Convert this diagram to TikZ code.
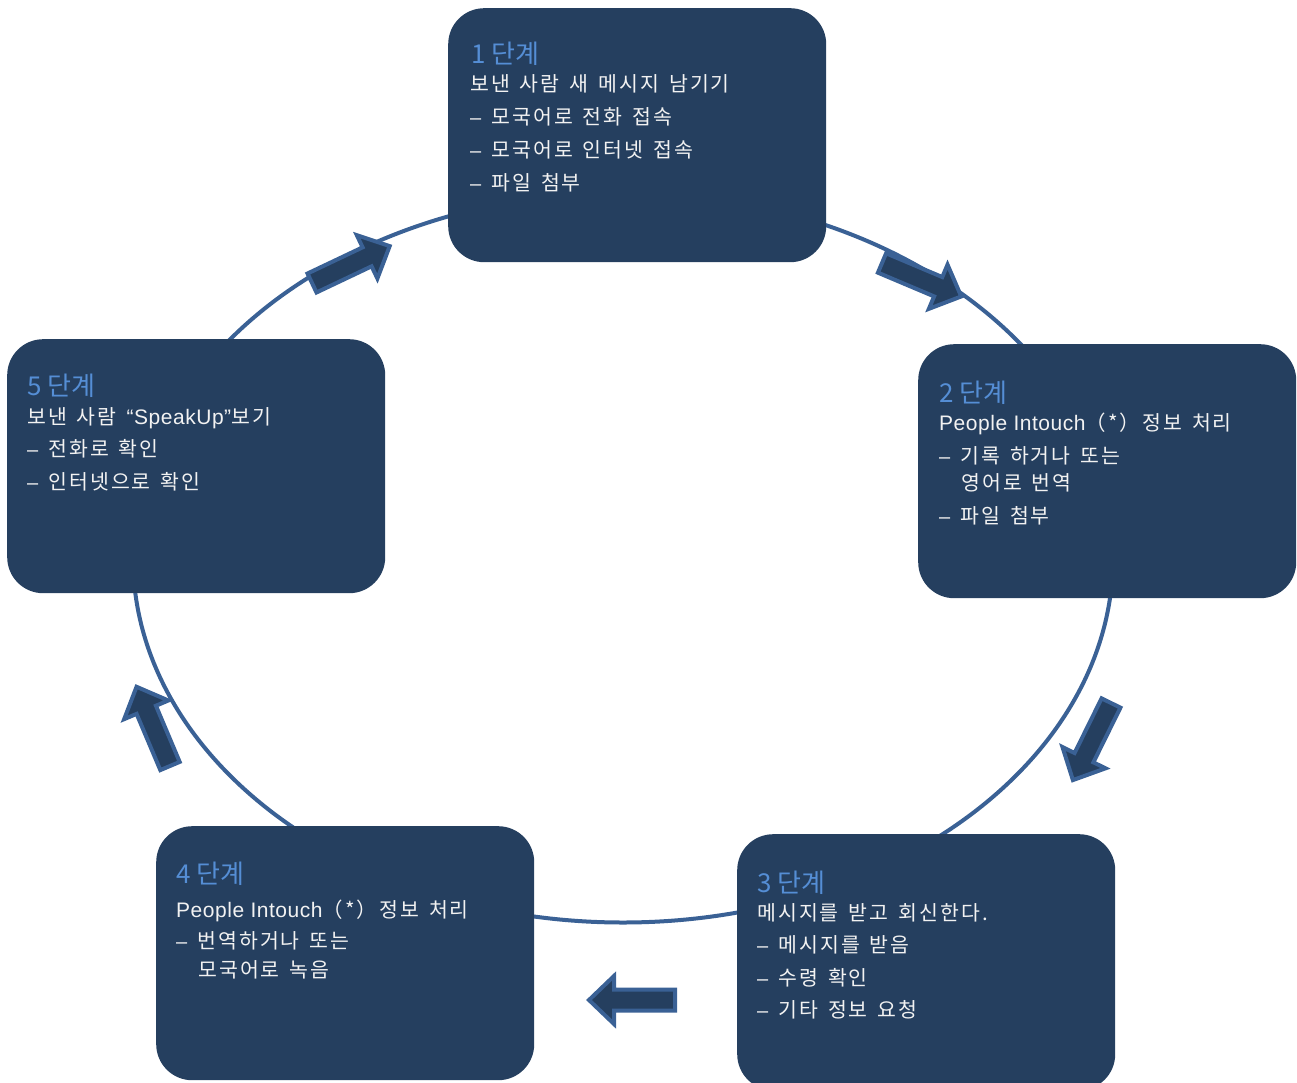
\documentclass[tikz,border=0pt]{standalone}
\usepackage{fontspec}
\newfontfamily\krbody[LetterSpace=10,WordSpace=1.5]{Noto Sans CJK KR}
\newfontfamily\krtitle{Noto Sans CJK KR}
\newfontfamily\latfont[LetterSpace=2.5]{Liberation Sans}
\newcommand\lat[1]{{\latfont\fontsize{21pt}{24pt}\selectfont #1}}
\newcommand\dsh{{\latfont\fontsize{20pt}{24pt}\selectfont –}\hspace{10pt}}
\definecolor{boxfill}{HTML}{253F5F}
\definecolor{ringcol}{HTML}{3A6195}
\definecolor{titlecol}{HTML}{558ED5}
\definecolor{bodycol}{HTML}{F2F2F2}
\newcommand\blockarrow[3]{%
  \begin{scope}[shift={(#1)}, rotate=#2]
    \draw[barrow] (0,-10.5) -- (61,-10.5) -- (61,-24) -- (#3,0) -- (61,24) -- (61,10.5) -- (0,10.5) -- cycle;
  \end{scope}}
\begin{document}
\begin{tikzpicture}[x=1pt,y=-1pt,
  stage/.style={draw=none, fill=boxfill, rounded corners=36pt, inner sep=0pt,
    anchor=north west, minimum width=378pt, minimum height=254pt},
  ring/.style={draw=ringcol, line width=4pt},
  barrow/.style={draw=ringcol, fill=boxfill, line width=4pt, line join=miter},
  ttl/.style={anchor=base west, inner sep=0pt, text=titlecol, font=\krtitle\fontsize{26pt}{30pt}\selectfont},
  txt/.style={anchor=base west, inner sep=0pt, text=bodycol, font=\krbody\fontsize{20.5pt}{24pt}\selectfont}]
\useasboundingbox (0,0) rectangle (1297,1083);
\clip (0,0) rectangle (1297,1083);
% ring
\draw[ring] (623,557.5) ellipse [x radius=490, y radius=365];
% boxes
\node[stage] (s1) at (448,8) {};
\node[stage] (s2) at (918,344) {};
\node[stage, minimum height=256pt] (s3) at (737,834) {};
\node[stage] (s4) at (156,826) {};
\node[stage] (s5) at (7,339) {};
% arrows
\blockarrow{312,283}{25.4}{86}
\blockarrow{882,263}{-22.9}{86}
\blockarrow{1111,703}{-116.3}{86}
\blockarrow{675,1000}{180}{86}
\blockarrow{170,766}{112.9}{86}
% box 1 text
\node[ttl] (t1) at (471,64) {1 단계};
\node[txt] (t1a) at (470,91.5) {보낸 사람 새 메시지 남기기};
\node[txt] (t1b) at (470,125) {\dsh 모국어로 전화 접속};
\node[txt] (t1c) at (470,158) {\dsh 모국어로 인터넷 접속};
\node[txt] (t1d) at (470,191) {\dsh 파일 첨부};
% box 2 text
\node[ttl] (t2) at (939,402) {2 단계};
\node[txt] (t2a) at (939,430) {\lat{People Intouch}（*）정보 처리};
\node[txt] (t2b) at (939,463) {\dsh 기록 하거나 또는};
\node[txt] (t2c) at (961,490) {영어로 번역};
\node[txt] (t2d) at (939,523) {\dsh 파일 첨부};
% box 3 text
\node[ttl] (t3) at (757,892) {3 단계};
\node[txt] (t3a) at (757,920) {메시지를 받고 회신한다.};
\node[txt] (t3b) at (757,952) {\dsh 메시지를 받음};
\node[txt] (t3c) at (757,985) {\dsh 수령 확인};
\node[txt] (t3d) at (757,1017) {\dsh 기타 정보 요청};
% box 4 text
\node[ttl] (t4) at (176,883) {4 단계};
\node[txt] (t4a) at (176,917) {\lat{People Intouch}（*）정보 처리};
\node[txt] (t4b) at (176,948) {\dsh 번역하거나 또는};
\node[txt] (t4c) at (198,977) {모국어로 녹음};
% box 5 text
\node[ttl] (t5) at (27,395) {5 단계};
\node[txt] (t5a) at (27,424) {보낸 사람 \lat{“SpeakUp”}보기};
\node[txt] (t5b) at (27,456) {\dsh 전화로 확인};
\node[txt] (t5c) at (27,489) {\dsh 인터넷으로 확인};
\end{tikzpicture}
\end{document}
